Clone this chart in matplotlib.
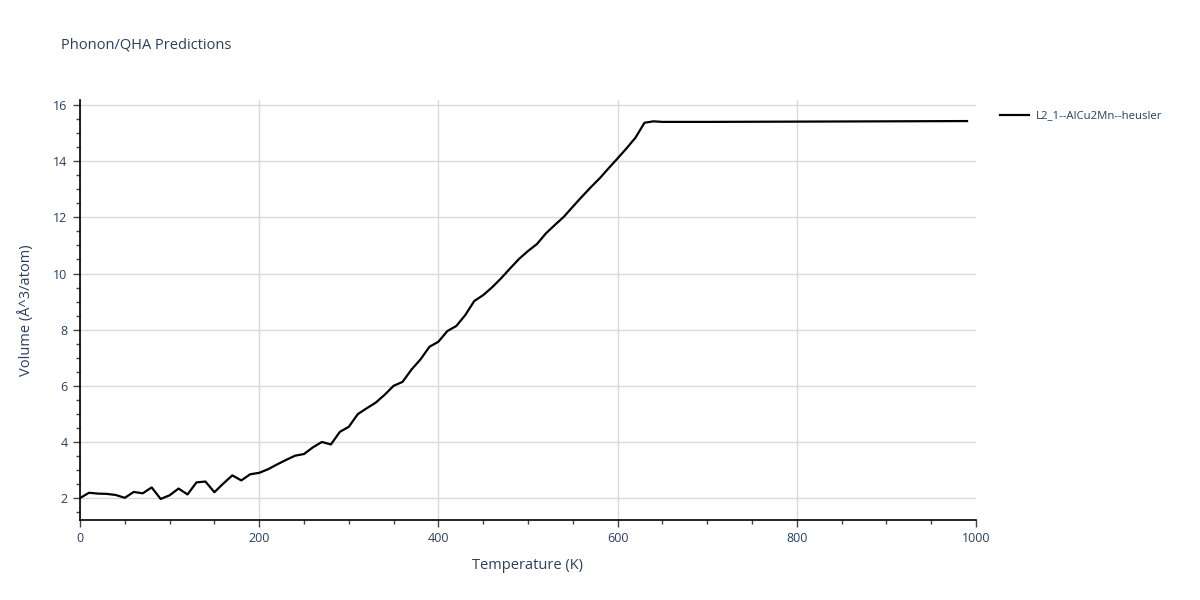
import matplotlib.pyplot as plt
from matplotlib.ticker import MultipleLocator

plt.rcParams['font.family'] = ['Open Sans', 'DejaVu Sans']

# temperature (K) and volume (A^3/atom)
temperature = [0, 10, 20, 30, 40, 50, 60, 70, 80, 90,
               100, 110, 120, 130, 140, 150, 160, 170, 180, 190,
               200, 210, 220, 230, 240, 250, 260, 270, 280, 290,
               300, 310, 320, 330, 340, 350, 360, 370, 380, 390,
               400, 410, 420, 430, 440, 450, 460, 470, 480, 490,
               500, 510, 520, 530, 540, 550, 560, 570, 580, 590,
               600, 610, 620, 630, 640, 650, 700, 800, 900, 990]
volume = [2.00, 2.19, 2.16, 2.15, 2.11, 2.01, 2.22, 2.17, 2.38, 1.97,
          2.10, 2.34, 2.13, 2.56, 2.59, 2.21, 2.52, 2.81, 2.63, 2.85,
          2.90, 3.03, 3.20, 3.36, 3.51, 3.57, 3.81, 4.00, 3.91, 4.36,
          4.54, 4.99, 5.20, 5.40, 5.68, 6.00, 6.14, 6.58, 6.94, 7.39,
          7.57, 7.95, 8.13, 8.52, 9.02, 9.23, 9.51, 9.83, 10.18, 10.52,
          10.80, 11.05, 11.43, 11.73, 12.02, 12.38, 12.73, 13.07, 13.39, 13.75,
          14.10, 14.46, 14.84, 15.37, 15.42, 15.40, 15.40, 15.41, 15.42, 15.43]
series_name = "L2_1--AlCu2Mn--heusler"

text_color = "#2a3f5f"
grid_color = "#d9d9d9"

fig = plt.figure(figsize=(12, 6), dpi=100)
ax = fig.add_axes([80 / 1200, 80 / 600, 896 / 1200, 420 / 600])

ax.plot(temperature, volume, color="black", linewidth=1.6, label=series_name)

ax.set_xlim(0, 1000)
ax.set_ylim(1.22, 16.18)
ax.xaxis.set_major_locator(MultipleLocator(200))
ax.xaxis.set_minor_locator(MultipleLocator(50))
ax.yaxis.set_major_locator(MultipleLocator(2))
ax.yaxis.set_minor_locator(MultipleLocator(0.5))

ax.grid(True, which="major", color=grid_color, linewidth=1)
ax.set_axisbelow(True)
# no gridline on the right edge
for line, tick in zip(ax.xaxis.get_gridlines(), ax.get_xticks()):
    if tick >= 1000:
        line.set_visible(False)
for side in ["top", "right"]:
    ax.spines[side].set_visible(False)
for side in ["left", "bottom"]:
    ax.spines[side].set_color("black")
    ax.spines[side].set_linewidth(1.2)

ax.tick_params(which="major", direction="out", length=5, width=1, color="#444444",
               labelsize=9, labelcolor=text_color, pad=4)
ax.tick_params(which="minor", direction="out", length=3, width=1, color="#444444")

ax.set_xlabel("Temperature (K)", fontsize=10.5, color=text_color, labelpad=9)
ax.set_ylabel("Volume (Å^3/atom)", fontsize=10.5, color=text_color, labelpad=14)

fig.text(61 / 1200, 1 - 45 / 600, "Phonon/QHA Predictions", fontsize=10.5,
         color=text_color, va="center", ha="left")

leg = ax.legend(loc="upper left", bbox_to_anchor=(995 / 1200, 1 - 106 / 600),
                bbox_transform=fig.transFigure, frameon=False, fontsize=8.2,
                handlelength=2.6, handletextpad=0.6, borderaxespad=0)
for t in leg.get_texts():
    t.set_color(text_color)

fig.savefig("out.png", dpi=100)
